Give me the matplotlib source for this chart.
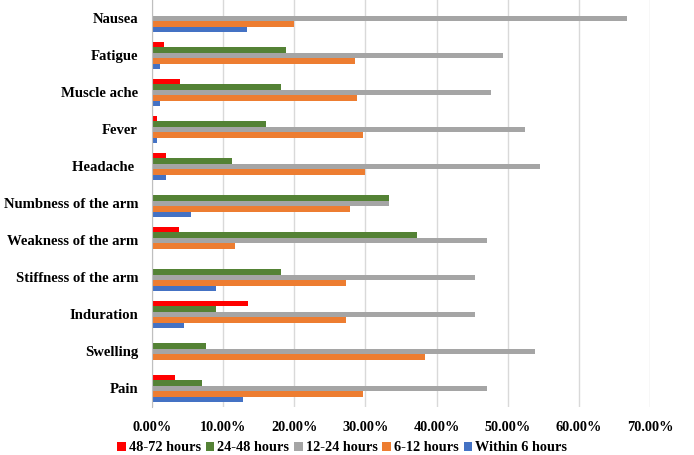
import numpy as np
import matplotlib.pyplot as plt
from matplotlib.ticker import PercentFormatter

plt.rcParams["font.family"] = ["Liberation Serif", "DejaVu Serif"]
plt.rcParams["font.weight"] = "bold"

symptoms = ["Nausea", "Fatigue", "Muscle ache", "Fever", "Headache ",
            "Numbness of the arm", "Weakness of the arm", "Stiffness of the arm",
            "Induration", "Swelling", "Pain"]

# percent of respondents, top to bottom as drawn
within_6 = [13.3, 1.1, 1.1, 0.75, 2.0, 5.5, 0.0, 9.0, 4.5, 0.0, 12.8]
h6_12 = [19.9, 28.5, 28.8, 29.6, 30.0, 27.8, 11.7, 27.2, 27.2, 38.4, 29.6]
h12_24 = [66.7, 49.4, 47.6, 52.5, 54.5, 33.3, 47.1, 45.4, 45.4, 53.8, 47.1]
h24_48 = [0.0, 18.9, 18.2, 16.0, 11.2, 33.3, 37.2, 18.1, 9.0, 7.6, 7.0]
h48_72 = [0.0, 1.7, 4.0, 0.75, 2.0, 0.0, 3.8, 0.0, 13.5, 0.0, 3.2]

series = [
    ("Within 6 hours", within_6, "#4472C4"),
    ("6-12 hours", h6_12, "#ED7D31"),
    ("12-24 hours", h12_24, "#A5A5A5"),
    ("24-48 hours", h24_48, "#548235"),
    ("48-72 hours", h48_72, "#FF0000"),
]

fig = plt.figure(figsize=(6.94, 4.55), dpi=100)
ax = fig.add_axes([0.219, 0.1055, 0.9366 - 0.219, 0.8945])

y = np.arange(len(symptoms))
h = 0.145
handles = {}
for i, (name, vals, col) in enumerate(series):
    off = (2 - i) * h
    b = ax.barh(y + off, np.array(vals) / 100.0, height=h, color=col, label=name, zorder=3)
    handles[name] = b

ax.set_ylim(len(symptoms) - 0.5, -0.5)
ax.set_xlim(0, 0.70)
ax.set_xticks(np.arange(0, 0.71, 0.10))
ax.xaxis.set_major_formatter(PercentFormatter(1.0, decimals=2))
ax.set_yticks(y)
ax.set_yticklabels(symptoms)
ax.tick_params(axis="both", length=0)
ax.tick_params(axis="x", pad=10, labelsize=10.3)
ax.tick_params(axis="y", pad=10, labelsize=10.6)
ax.grid(axis="x", color="#D9D9D9", lw=1, zorder=0)
for s in ["top", "right", "bottom"]:
    ax.spines[s].set_visible(False)
ax.spines["left"].set_color("#BFBFBF")
ax.spines["left"].set_zorder(4)

order = ["48-72 hours", "24-48 hours", "12-24 hours", "6-12 hours", "Within 6 hours"]
fig.legend([handles[n] for n in order], order, loc="center", bbox_to_anchor=(0.493, 0.016),
           ncol=5, frameon=False, fontsize=10.3, handlelength=0.6, handleheight=0.6,
           handletextpad=0.2, columnspacing=0.35, borderaxespad=0)

fig.savefig("out.png", dpi=100)
